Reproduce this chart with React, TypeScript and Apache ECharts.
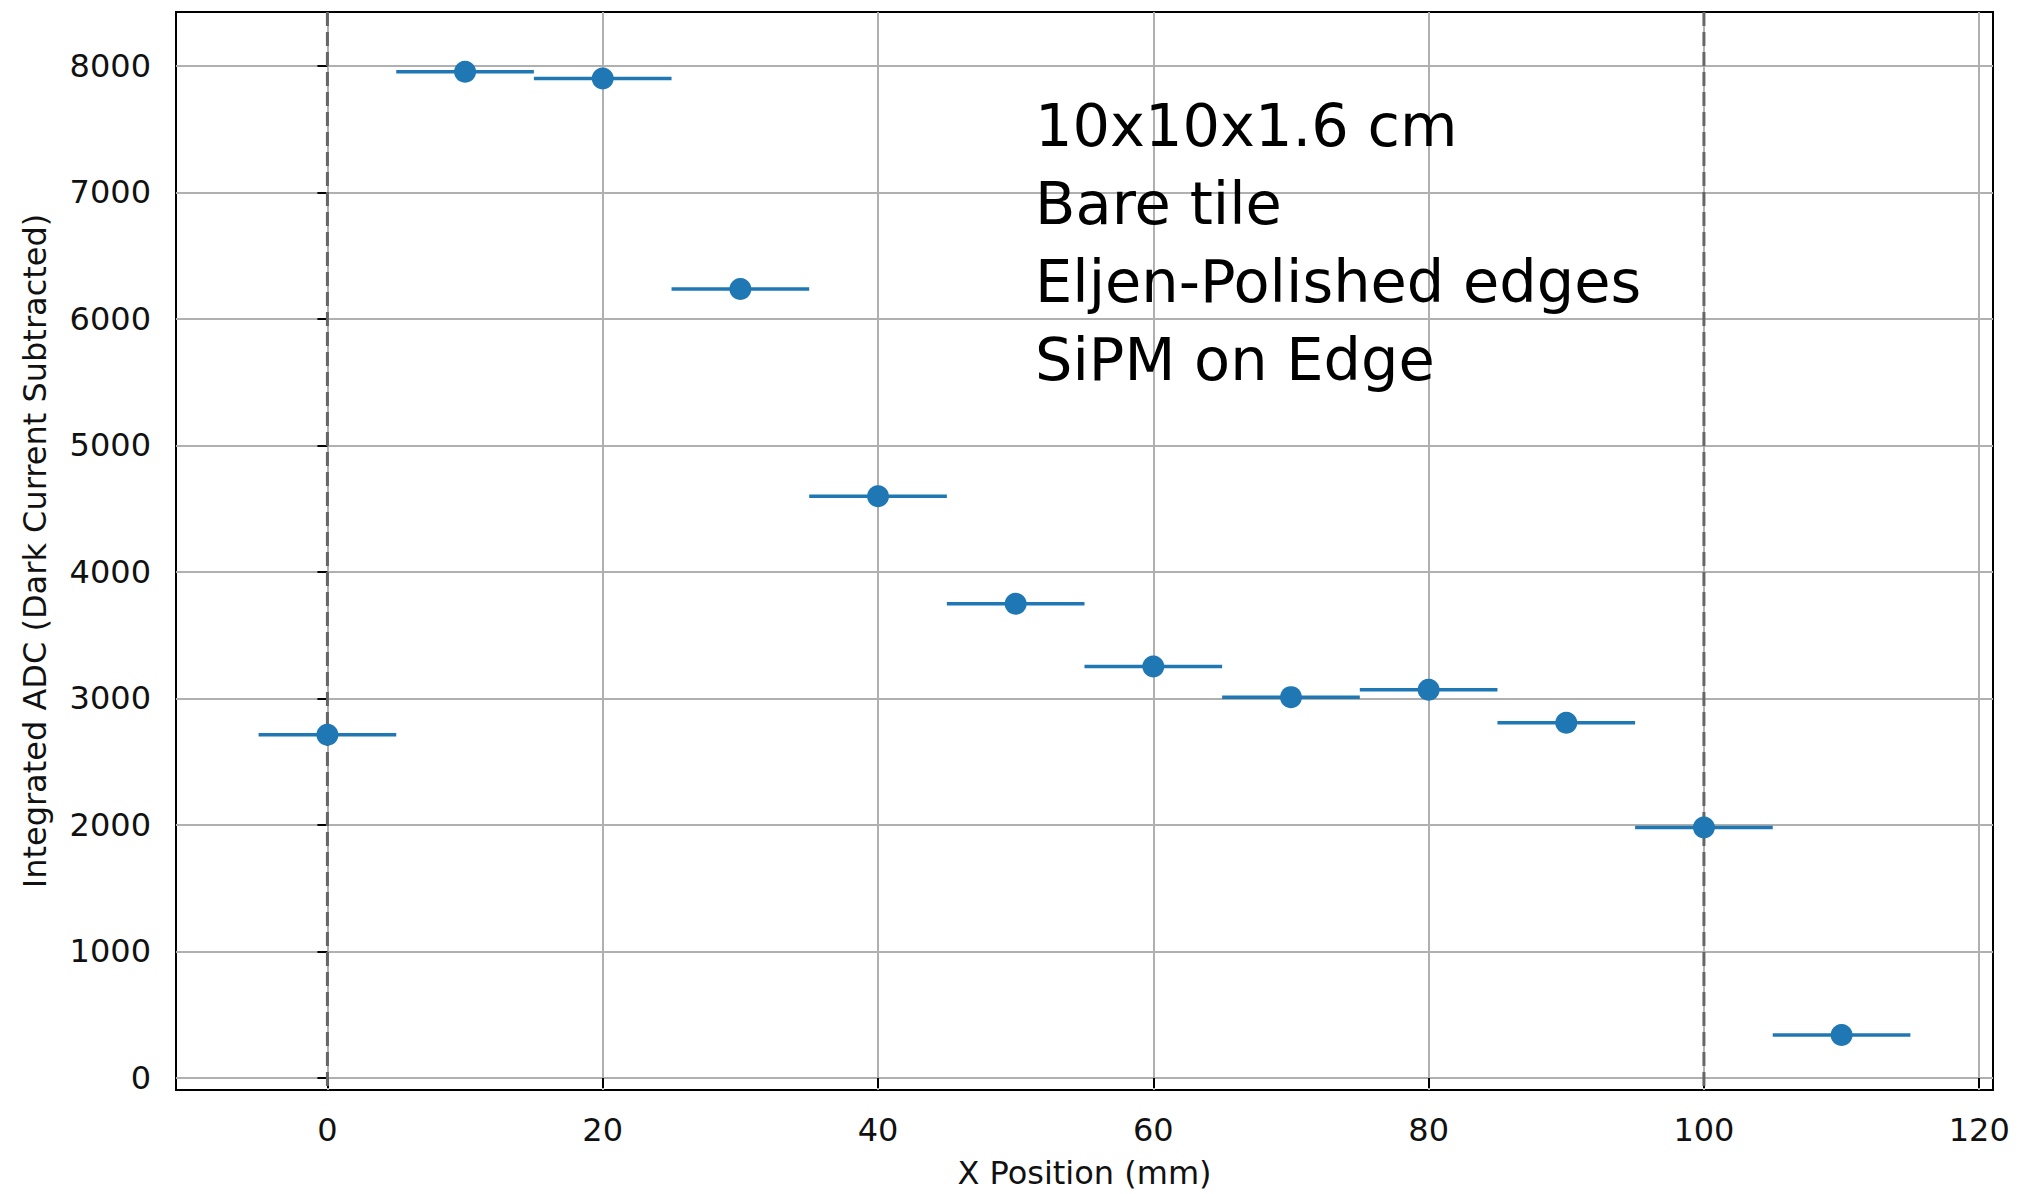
import React, { useEffect, useRef } from "react";
import * as echarts from "echarts";

const xPositions = [0, 10, 20, 30, 40, 50, 60, 70, 80, 90, 100, 110];
const adcValues = [2712, 7953, 7900, 6236, 4598, 3748, 3252, 3010, 3068, 2808, 1980, 339];
const xErrors = [5, 5, 5, 5, 5, 5, 5, 5, 5, 5, 5, 5];
const xTicks = [0, 20, 40, 60, 80, 100, 120];
const yTicks = [0, 1000, 2000, 3000, 4000, 5000, 6000, 7000, 8000];
const edgeLines = [0, 100];
const annotationLines = ["10x10x1.6 cm", "Bare tile", "Eljen-Polished edges", "SiPM on Edge"];
const xLabel = "X Position (mm)";
const yLabel = "Integrated ADC (Dark Current Subtracted)";

const BLUE = "#1f77b4";
const TICK_FONT = "DejaVu Sans";
const TEXT_COLOR = "#111111";

export default function App() {
  const ref = useRef<HTMLDivElement>(null);

  useEffect(() => {
    document.body.style.margin = "0";
    if (!ref.current) return;
    const chart = echarts.init(ref.current, undefined, { renderer: "svg" });

    const pointData = xPositions.map((x, i) => [x, adcValues[i], xErrors[i]]);

    const option: any = {
      animation: false,
      backgroundColor: "#ffffff",
      grid: {
        left: 176,
        top: 12,
        right: 30,
        bottom: 100,
        show: true,
        borderColor: "#000000",
        borderWidth: 2,
        backgroundColor: "transparent",
      },
      xAxis: {
        type: "value",
        min: -11,
        max: 121,
        name: xLabel,
        nameLocation: "middle",
        nameGap: 67,
        nameTextStyle: { fontFamily: TICK_FONT, fontSize: 32, color: TEXT_COLOR },
        axisLine: { show: false },
        axisTick: {
          show: true,
          length: 10,
          inside: false,
          customValues: xTicks,
          lineStyle: { color: "#000", width: 2 },
        },
        axisLabel: {
          customValues: xTicks,
          margin: 24,
          fontFamily: TICK_FONT,
          fontSize: 32,
          color: TEXT_COLOR,
          formatter: (v: number) => String(v),
        },
        splitLine: { show: true, lineStyle: { color: "#b0b0b0", width: 2 } },
      },
      yAxis: {
        type: "value",
        min: -95,
        max: 8425,
        name: yLabel,
        nameLocation: "middle",
        nameGap: 125,
        nameTextStyle: { fontFamily: TICK_FONT, fontSize: 32, color: TEXT_COLOR },
        axisLine: { show: false },
        axisTick: {
          show: true,
          length: 10,
          inside: false,
          customValues: yTicks,
          lineStyle: { color: "#000", width: 2 },
        },
        axisLabel: {
          customValues: yTicks,
          margin: 25,
          fontFamily: TICK_FONT,
          fontSize: 32,
          color: TEXT_COLOR,
          formatter: (v: number) => String(v),
        },
        splitLine: { show: true, lineStyle: { color: "#b0b0b0", width: 2 } },
      },
      series: [
        {
          type: "custom",
          name: "edges",
          z: 1,
          data: edgeLines.map((x) => [x, 0]),
          encode: { x: 0, y: 1 },
          renderItem: (params: any, api: any) => {
            const p = api.coord([api.value(0), 0]);
            const cs = params.coordSys;
            return {
              type: "line",
              shape: { x1: p[0], y1: cs.y, x2: p[0], y2: cs.y + cs.height },
              style: { stroke: "#666666", lineWidth: 3, lineDash: [14, 6] },
            };
          },
        },
        {
          type: "custom",
          name: "xerr",
          z: 2,
          data: pointData,
          encode: { x: 0, y: 1 },
          renderItem: (params: any, api: any) => {
            const x = api.value(0);
            const y = api.value(1);
            const e = api.value(2);
            const a = api.coord([x - e, y]);
            const b = api.coord([x + e, y]);
            return {
              type: "line",
              shape: { x1: a[0], y1: a[1], x2: b[0], y2: b[1] },
              style: { stroke: BLUE, lineWidth: 3.5 },
            };
          },
        },
        {
          type: "scatter",
          name: "ADC",
          z: 3,
          symbol: "circle",
          symbolSize: 22,
          itemStyle: { color: BLUE, opacity: 1 },
          data: pointData.map((d) => [d[0], d[1]]),
        },
      ],
      graphic: annotationLines.map((t, i) => ({
        type: "text",
        x: 1035,
        y: 125 + i * 78,
        z: 10,
        style: {
          text: t,
          fontFamily: "DejaVu Sans",
          fontSize: 59,
          fill: "#000000",
          verticalAlign: "middle",
          align: "left",
        },
      })),
    };

    chart.setOption(option);
    return () => chart.dispose();
  }, []);

  return <div ref={ref} style={{ width: 2023, height: 1194 }} />;
}
